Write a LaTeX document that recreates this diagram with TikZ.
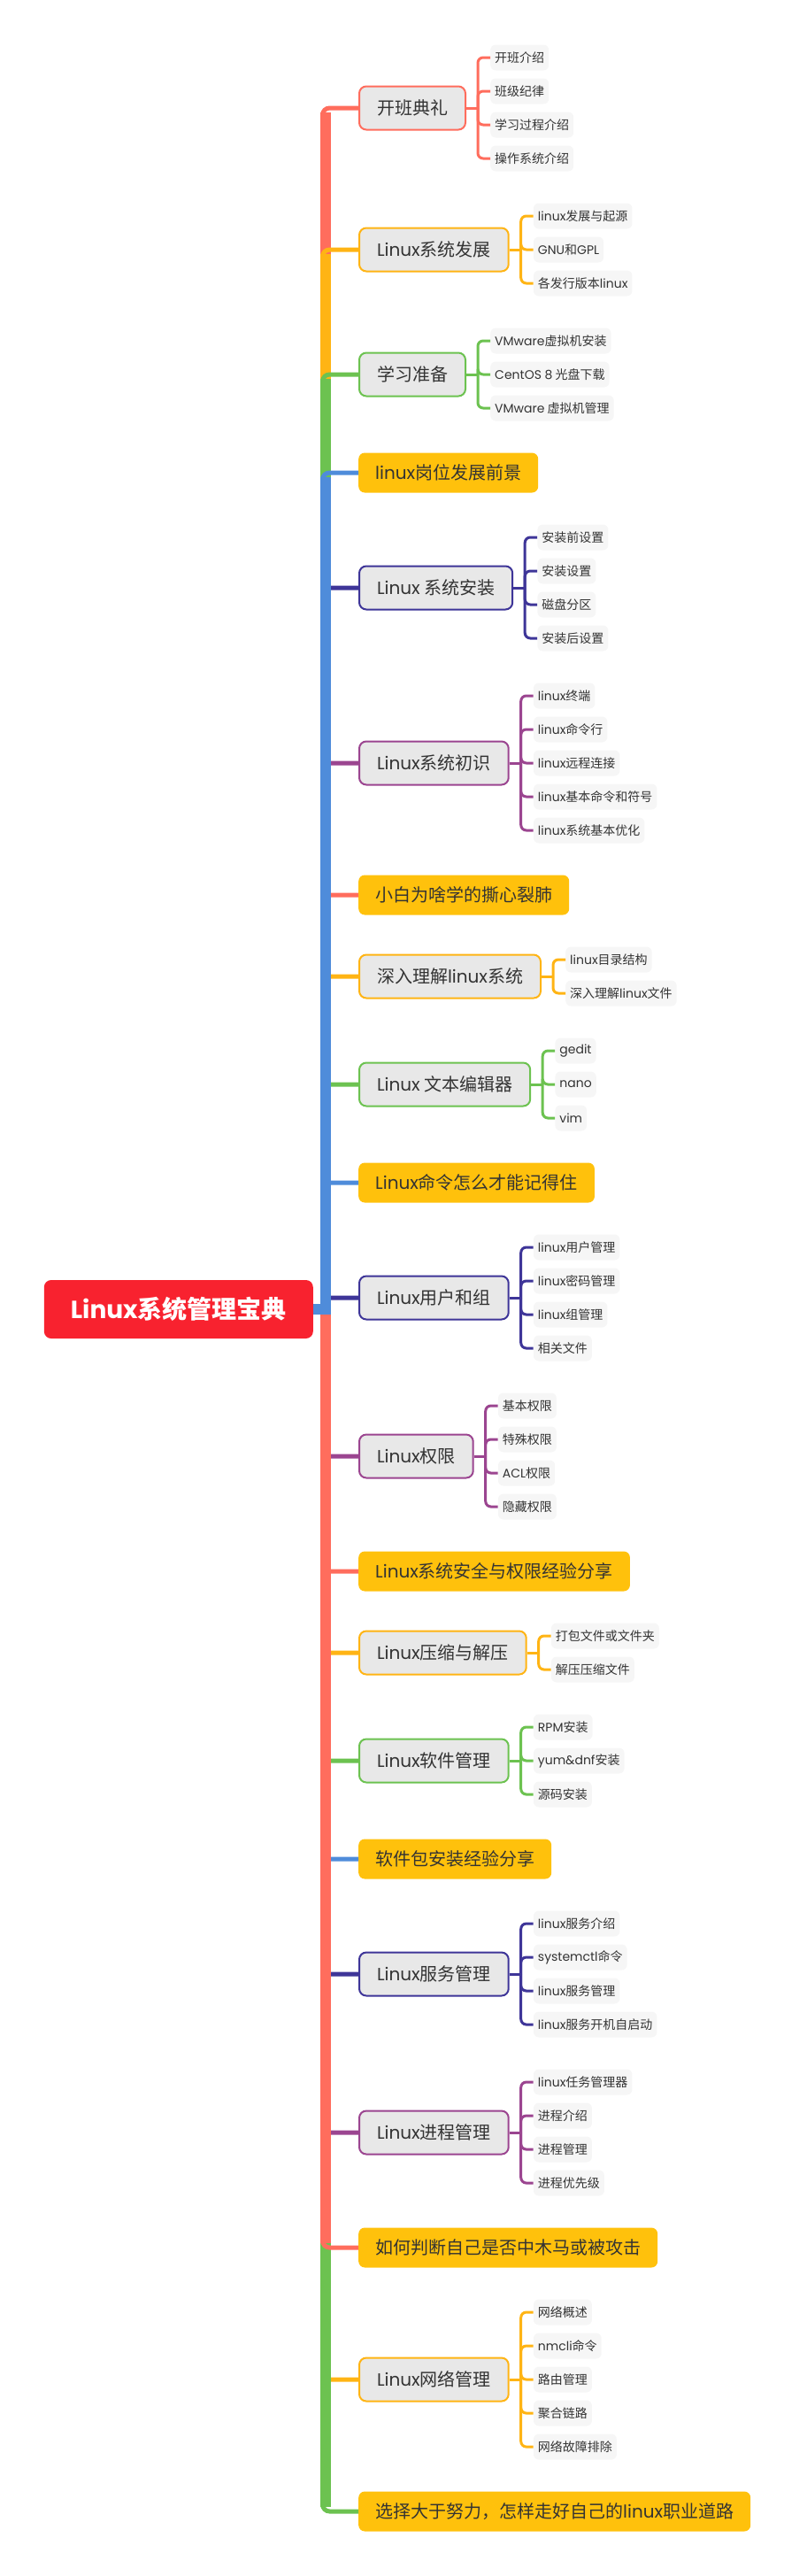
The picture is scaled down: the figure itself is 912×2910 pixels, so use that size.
\documentclass[tikz,border=0pt]{standalone}
\usepackage{fontspec}
\setmainfont{Noto Sans CJK SC}
\newfontfamily\enfont{Poppins}
\usetikzlibrary{positioning,calc}

\definecolor{rootred}{HTML}{F8222F}
\definecolor{coral}{HTML}{FF6D5D}
\definecolor{amber}{HTML}{FFB414}
\definecolor{leafgreen}{HTML}{6CC250}
\definecolor{sky}{HTML}{4F8CDA}
\definecolor{indigo}{HTML}{3E3598}
\definecolor{plum}{HTML}{9B4590}
\definecolor{notefill}{HTML}{FFC10C}
\definecolor{topicgrey}{HTML}{E8E8E8}
\definecolor{leafgrey}{HTML}{F6F6F6}
\definecolor{ink}{HTML}{333333}

% latin words
\newcommand{\en}[1]{{\enfont #1}}

% children of a topic: parent, colour, labels
\newcommand{\kids}[3]{%
\coordinate (#1b) at ([xshift=13pt]#1.east);
\draw[kidline=#2] (#1.east) -- (#1b);
\foreach \lbl [count=\k] in {#3} {\xdef\nk{\k}}
\foreach \lbl [count=\k] in {#3}
{
\node[leaf] (#1-\k) at ([xshift=27pt,yshift={(\nk+1-2*\k)*19pt}]#1.east) {\lbl};
\draw[kidline=#2,rounded corners=6pt] (#1b) |- (#1-\k.west);
}
}

% trunk piece from the root to a topic: colour, topic, 1 up / -1 down
\newcommand{\branch}[3]{%
\draw[#1,line width=12pt] (root.east) -- (tk |- root.east) -- ($(tk |- #2.west)+(0,#3*5)$);
\draw[#1,line width=5pt,rounded corners=8pt] ($(tk |- #2.west)+(-3,#3*14)$) -- ($(tk |- #2.west)+(-3,0)$) -- (#2.west);
}

\begin{document}
\begin{tikzpicture}[x=1pt,y=-1pt,
root/.style={anchor=east,fill=rootred,rounded corners=8pt,minimum width=304pt,minimum height=66pt,text=white,font=\fontsize{28}{32}\selectfont\bfseries},
topic/.style={anchor=west,draw=#1,line width=2pt,fill=topicgrey,rounded corners=8pt,minimum height=49pt,inner xsep=20pt,inner ysep=0pt,text=ink,font=\fontsize{20}{24}\selectfont},
note/.style={anchor=west,fill=notefill,rounded corners=7pt,minimum height=45pt,inner xsep=19pt,inner ysep=0pt,text=ink,font=\fontsize{20}{24}\selectfont},
leaf/.style={anchor=west,fill=leafgrey,rounded corners=6pt,minimum height=29pt,inner xsep=5pt,inner ysep=0pt,text=ink,font=\fontsize{14}{16}\selectfont},
kidline/.style={draw=#1,line width=3pt}]

\useasboundingbox (0,0) rectangle (912,2910);
\coordinate (tk) at (367.5,0);

\node[root] (root) at (354,1479) {\en{Linux}系统管理宝典};

\node[topic=coral] (m1) at (405,122) {开班典礼};
\node[topic=amber] (m2) at (405,282) {\en{Linux}系统发展};
\node[topic=leafgreen] (m3) at (405,423) {学习准备};
\node[note] (m4) at (405,534) {\en{linux}岗位发展前景};
\node[topic=indigo] (m5) at (405,664) {\en{Linux} 系统安装};
\node[topic=plum] (m6) at (405,862) {\en{Linux}系统初识};
\node[note] (m7) at (405,1011) {小白为啥学的撕心裂肺};
\node[topic=amber] (m8) at (405,1103) {深入理解\en{linux}系统};
\node[topic=leafgreen] (m9) at (405,1225) {\en{Linux} 文本编辑器};
\node[note] (m10) at (405,1336) {\en{Linux}命令怎么才能记得住};
\node[topic=indigo] (m11) at (405,1466) {\en{Linux}用户和组};
\node[topic=plum] (m12) at (405,1645) {\en{Linux}权限};
\node[note] (m13) at (405,1775) {\en{Linux}系统安全与权限经验分享};
\node[topic=amber] (m14) at (405,1867) {\en{Linux}压缩与解压};
\node[topic=leafgreen] (m15) at (405,1989) {\en{Linux}软件管理};
\node[note] (m16) at (405,2100) {软件包安装经验分享};
\node[topic=indigo] (m17) at (405,2230) {\en{Linux}服务管理};
\node[topic=plum] (m18) at (405,2409) {\en{Linux}进程管理};
\node[note] (m19) at (405,2539) {如何判断自己是否中木马或被攻击};
\node[topic=amber] (m20) at (405,2688) {\en{Linux}网络管理};
\node[note] (m21) at (405,2837) {选择大于努力，怎样走好自己的\en{linux}职业道路};

% lower half
\branch{plum}{m12}{-1}
\branch{coral}{m13}{-1}
\branch{amber}{m14}{-1}
\branch{leafgreen}{m15}{-1}
\branch{sky}{m16}{-1}
\branch{indigo}{m17}{-1}
\branch{plum}{m18}{-1}
\branch{amber}{m20}{-1}
\branch{leafgreen}{m21}{-1}
\branch{coral}{m19}{-1}
% upper half
\branch{indigo}{m5}{1}
\branch{plum}{m6}{1}
\branch{coral}{m7}{1}
\branch{amber}{m8}{1}
\branch{leafgreen}{m9}{1}
\branch{sky}{m10}{1}
\branch{indigo}{m11}{1}
\branch{coral}{m1}{1}
\branch{amber}{m2}{1}
\branch{leafgreen}{m3}{1}
\branch{sky}{m4}{1}

\kids{m1}{coral}{开班介绍,班级纪律,学习过程介绍,操作系统介绍}
\kids{m2}{amber}{\en{linux}发展与起源,\en{GNU}和\en{GPL},各发行版本\en{linux}}
\kids{m3}{leafgreen}{\en{VMware}虚拟机安装,\en{CentOS 8} 光盘下载,\en{VMware} 虚拟机管理}
\kids{m5}{indigo}{安装前设置,安装设置,磁盘分区,安装后设置}
\kids{m6}{plum}{\en{linux}终端,\en{linux}命令行,\en{linux}远程连接,\en{linux}基本命令和符号,\en{linux}系统基本优化}
\kids{m8}{amber}{\en{linux}目录结构,深入理解\en{linux}文件}
\kids{m9}{leafgreen}{\en{gedit},\en{nano},\en{vim}}
\kids{m11}{indigo}{\en{linux}用户管理,\en{linux}密码管理,\en{linux}组管理,相关文件}
\kids{m12}{plum}{基本权限,特殊权限,\en{ACL}权限,隐藏权限}
\kids{m14}{amber}{打包文件或文件夹,解压压缩文件}
\kids{m15}{leafgreen}{\en{RPM}安装,\en{yum\&dnf}安装,源码安装}
\kids{m17}{indigo}{\en{linux}服务介绍,\en{systemctl}命令,\en{linux}服务管理,\en{linux}服务开机自启动}
\kids{m18}{plum}{\en{linux}任务管理器,进程介绍,进程管理,进程优先级}
\kids{m20}{amber}{网络概述,\en{nmcli}命令,路由管理,聚合链路,网络故障排除}

\end{tikzpicture}
\end{document}
